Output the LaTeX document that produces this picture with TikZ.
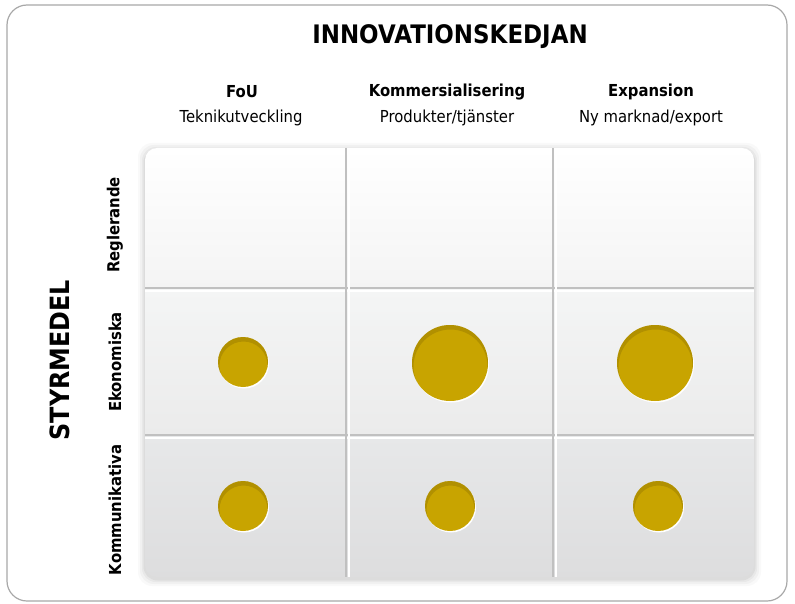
\documentclass[tikz,border=0pt]{standalone}
\usepackage{fontspec}
\setmainfont[FakeStretch=0.9]{DejaVu Sans}
\usetikzlibrary{calc}
\definecolor{gold}{HTML}{C8A400}
\definecolor{golddark}{HTML}{8F7400}
\definecolor{framegray}{HTML}{A8A8A8}
\definecolor{linegray}{HTML}{C0C0C0}
\definecolor{rowa}{HTML}{F4F4F4}
\definecolor{rowb}{HTML}{F4F5F5}
\definecolor{rowc}{HTML}{EBEBEB}
\definecolor{rowd}{HTML}{E7E8E9}
\definecolor{rowe}{HTML}{DDDDDE}

\begin{document}
\begin{tikzpicture}[x=1pt,y=-1pt,
  head/.style={font=\bfseries\fontsize{16.5}{19}\selectfont},
  sub/.style={font=\fontsize{16.5}{19}\selectfont},
  rowlabel/.style={font=\bfseries\fontsize{16.5}{19}\selectfont, rotate=90}]
\useasboundingbox (0,0) rectangle (795,604);
% Outer frame
\draw[framegray, line width=1.2pt, rounded corners=20pt] (7,5) rectangle (787,601);
% Titles
\node (chain) at (450,37) {\bfseries\fontsize{25.5}{29}\selectfont INNOVATIONSKEDJAN};
\node[rotate=90] (tools) at (60,360) {\bfseries\fontsize{26.5}{30}\selectfont STYRMEDEL};
% Column heads
\node[head] (fou) at (242,92) {FoU};
\node[sub]  (fousub) at (241,118) {Teknikutveckling};
\node[head] (kom) at (447,92) {Kommersialisering};
\node[sub]  (komsub) at (447,118) {Produkter/tjänster};
\node[head] (exp) at (651,92) {Expansion};
\node[sub]  (expsub) at (651,118) {Ny marknad/export};
% Row heads
\node[rowlabel] (regl) at (115,225) {Reglerande};
\node[rowlabel] (ekon) at (115,362) {Ekonomiska};
\node[rowlabel] (komm) at (115,510) {Kommunikativa};
% Soft shadow round the grid
\foreach \s/\o in {7/0.025, 5/0.03, 3/0.04, 1.5/0.05}
  \fill[black, opacity=\o, rounded corners=14pt] (145-\s,148-\s+2) rectangle (754+\s,577+\s+2);
% Grid rows
\begin{scope}
\clip[rounded corners=12pt] (145,148) rectangle (754,577);
\shade[top color=white, bottom color=rowa] (145,148) rectangle (754,289);
\shade[top color=rowb, bottom color=rowc] (145,289) rectangle (754,436);
\shade[top color=rowd, bottom color=rowe] (145,436) rectangle (754,578);
\end{scope}
% Grooves between cells
\foreach \y in {288,435} {
  \draw[linegray, line width=1.8pt] (145,\y) -- (754,\y);
  \draw[white, line width=1.6pt] (145,\y+2.7) -- (754,\y+2.7);
}
\foreach \x in {346,553} {
  \draw[linegray, line width=1.8pt] (\x,148) -- (\x,577);
  \draw[white, line width=1.6pt] (\x+2.7,148) -- (\x+2.7,577);
}
% Dots
\foreach \cx/\cy/\r in {243/362/25, 450/363/38, 655/363/38, 243/506/25, 450/506/25, 658/506/25} {
  \fill[white] (\cx+1,\cy+1.5) circle [radius=\r];
  \fill[gold] (\cx,\cy) circle [radius=\r];
  \begin{scope}
    \clip (\cx,\cy) circle [radius=\r];
    \draw[golddark, line width=5pt, opacity=0.4] (\cx+0.5,\cy+3.5) circle [radius=\r+1.5];
  \end{scope}
}
\end{tikzpicture}
\end{document}
